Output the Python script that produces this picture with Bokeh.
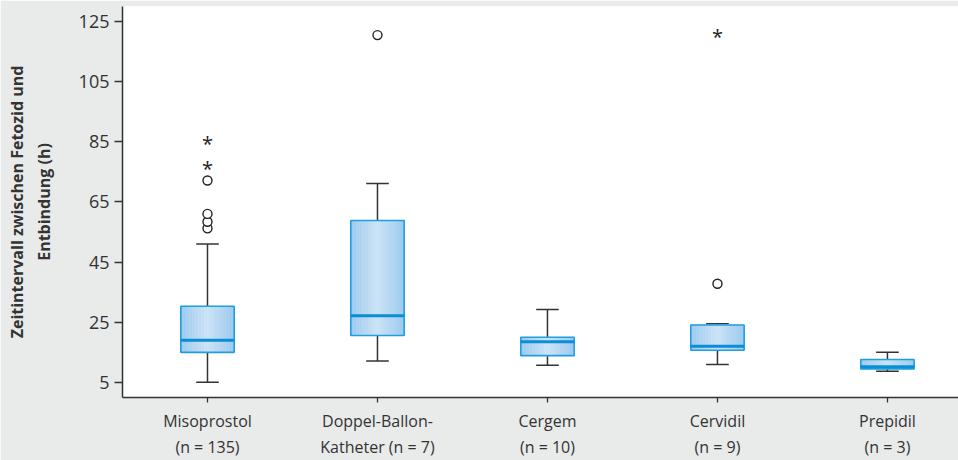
from bokeh.plotting import figure
from bokeh.models import Range1d, FixedTicker
from bokeh.core.properties import value
from bokeh.embed import file_html
from bokeh.resources import INLINE

# ---- data ----
categories = ["Misoprostol\n(n = 135)", "Doppel-Ballon-\nKatheter (n = 7)", "Cergem\n(n = 10)",
              "Cervidil\n(n = 9)", "Prepidil\n(n = 3)"]
lower_whisker = [5.1, 12.1, 10.7, 11.0, 8.7]
q1 = [15.0, 20.6, 13.9, 15.7, 9.5]
median = [19.0, 27.2, 18.5, 17.0, 10.2]
q3 = [30.3, 58.8, 20.0, 24.1, 12.6]
upper_whisker = [51.0, 71.1, 29.2, 24.5, 15.0]
outlier_group = [0, 0, 0, 0, 1, 3]
outlier_value = [56.2, 58.4, 61.0, 72.1, 120.4, 37.8]
extreme_group = [0, 0, 3]
extreme_value = [76.3, 84.6, 120.3]
y_ticks = [5, 25, 45, 65, 85, 105, 125]

# ---- styles ----
BG = "#e9eaea"
BOX_LINE = "#1f9fe0"
MEDIAN = "#0a8ed6"
EDGE = (155, 202, 239)
CENTER = (204, 227, 246)
DARK = "#333333"
FONT = "Open Sans"
BOX_W = 0.314
CAP_W = 0.133

p = figure(width=958, height=460, output_backend="svg", toolbar_location=None,
           x_range=Range1d(-0.5, 4.418), y_range=Range1d(0, 129.9),
           min_border_left=122, min_border_right=0, min_border_top=6, min_border_bottom=62)
p.background_fill_color = "white"
p.border_fill_color = BG
p.outline_line_color = None
p.xgrid.visible = False
p.ygrid.visible = False

xs = list(range(len(categories)))

# whiskers
p.segment(x0=xs, y0=q3, x1=xs, y1=upper_whisker, line_color=DARK, line_width=1.5)
p.segment(x0=xs, y0=lower_whisker, x1=xs, y1=q1, line_color=DARK, line_width=1.5)
p.segment(x0=[x - CAP_W / 2 for x in xs], y0=upper_whisker, x1=[x + CAP_W / 2 for x in xs],
          y1=upper_whisker, line_color=DARK, line_width=1.5)
p.segment(x0=[x - CAP_W / 2 for x in xs], y0=lower_whisker, x1=[x + CAP_W / 2 for x in xs],
          y1=lower_whisker, line_color=DARK, line_width=1.5)

# gradient boxes made from vertical strips
n = 18
L, R, B, T, C = [], [], [], [], []
for i, x in enumerate(xs):
    left = x - BOX_W / 2
    for k in range(n):
        t = abs((k + 0.5) / n - 0.5) * 2
        col = tuple(int(round(CENTER[j] * (1 - t) + EDGE[j] * t)) for j in range(3))
        L.append(left + k * BOX_W / n)
        R.append(left + (k + 1) * BOX_W / n)
        B.append(q1[i])
        T.append(q3[i])
        C.append("#%02x%02x%02x" % col)
p.quad(left=L, right=R, bottom=B, top=T, fill_color=C, line_color=C, line_width=0.6)
p.quad(left=[x - BOX_W / 2 for x in xs], right=[x + BOX_W / 2 for x in xs], bottom=q1, top=q3,
       fill_color=None, line_color=BOX_LINE, line_width=1.6)
p.segment(x0=[x - BOX_W / 2 for x in xs], y0=median, x1=[x + BOX_W / 2 for x in xs], y1=median,
          line_color=MEDIAN, line_width=3)

# outliers
p.scatter(x=outlier_group, y=outlier_value, marker="circle", size=9, fill_color="white",
          line_color="#222222", line_width=1.4)
p.text(x=extreme_group, y=extreme_value, text=["*"] * len(extreme_group),
       text_font=value(FONT), text_font_size="20px", text_color="#222222",
       text_align="center", text_baseline="middle", y_offset=1)

# axes
p.yaxis.ticker = FixedTicker(ticks=y_ticks)
p.yaxis.axis_label = "Zeitintervall zwischen Fetozid und\nEntbindung (h)"
p.yaxis.axis_label_text_font = FONT
p.yaxis.axis_label_text_font_style = "bold"
p.yaxis.axis_label_text_font_size = "16px"
p.yaxis.axis_label_text_color = DARK
p.yaxis.axis_label_standoff = 21
p.yaxis.major_label_text_font = FONT
p.yaxis.major_label_text_font_size = "18px"
p.yaxis.major_label_text_color = DARK
p.yaxis.major_tick_out = 8
p.yaxis.major_tick_in = 0
p.yaxis.minor_tick_line_color = None

p.xaxis.ticker = FixedTicker(ticks=xs)
p.xaxis.major_label_overrides = {i: c for i, c in enumerate(categories)}
p.xaxis.major_label_text_font = FONT
p.xaxis.major_label_text_font_size = "16px"
p.xaxis.major_label_text_color = DARK
p.xaxis.major_tick_out = 5
p.xaxis.major_tick_in = 0
p.xaxis.major_label_standoff = 7
p.xaxis.minor_tick_line_color = None

for ax in (p.xaxis, p.yaxis):
    ax.axis_line_color = DARK
    ax.axis_line_width = 1.5
    ax.major_tick_line_color = DARK
    ax.major_tick_line_width = 1.3

html = file_html(p, INLINE)
html = html.replace("<body>", '<body style="background:%s">' % BG, 1)
open("out.html", "w").write(html)
